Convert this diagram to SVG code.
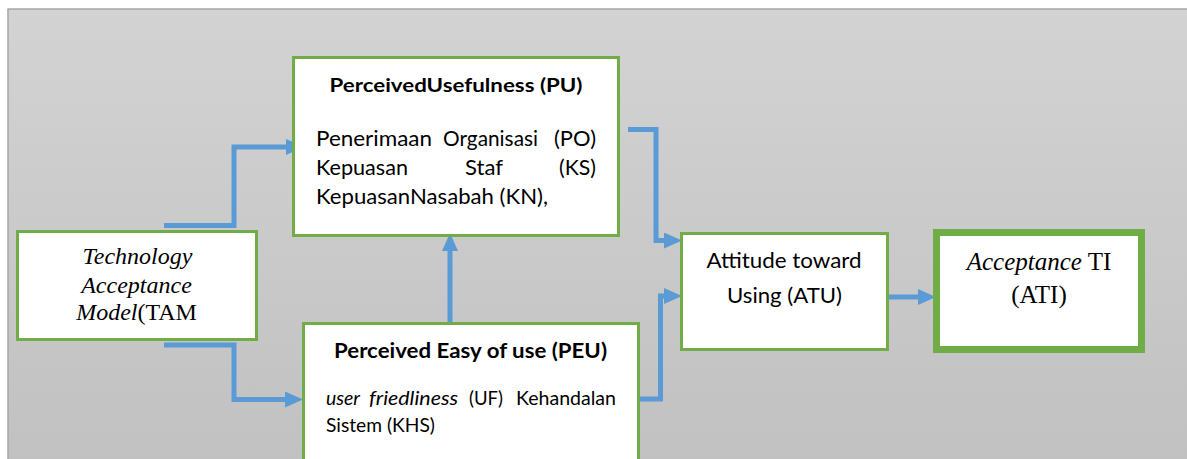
<svg xmlns="http://www.w3.org/2000/svg" width="1187" height="459" viewBox="0 0 1187 459">
  <defs>
    <linearGradient id="bg" x1="0" y1="0" x2="0" y2="1">
      <stop offset="0" stop-color="#d3d3d3"/>
      <stop offset="1" stop-color="#c1c1c1"/>
    </linearGradient>
    <marker id="arr" markerUnits="userSpaceOnUse" markerWidth="18" markerHeight="16" refX="6" refY="8" orient="auto" viewBox="0 0 18 16">
      <path d="M0,0 L18,8 L0,16 Z" fill="#5b9bd5"/>
    </marker>
    <style>
      .box { fill: #ffffff; stroke: #70ad47; stroke-width: 3; }
      .thick { stroke-width: 7; }
      .conn { fill: none; stroke: #5b9bd5; stroke-width: 5; stroke-linejoin: miter; marker-end: url(#arr); }
      .sans { font-family: Lato, "Liberation Sans", sans-serif; fill: #000; }
      .serif { font-family: "Liberation Serif", serif; fill: #000; }
      .b { font-weight: bold; }
      .i { font-style: italic; }
      .pu { font-size: 22px; }
      .peu { font-size: 20px; }
    </style>
  </defs>

  <rect x="0" y="0" width="1187" height="459" fill="#ffffff"/>
  <rect x="8" y="9" width="1179" height="450" fill="url(#bg)"/>
  <line x1="7.5" y1="9" x2="1187" y2="9" stroke="#a6a6a6" stroke-width="1.5"/>
  <line x1="8" y1="9" x2="8" y2="459" stroke="#a6a6a6" stroke-width="1.5"/>

  <g id="connectors">
    <path class="conn" d="M164,225.5 H234 V147 H292"/>
    <path class="conn" d="M164,345 H234 V399.5 H291"/>
    <path class="conn" d="M450,322 V245"/>
    <path class="conn" d="M628,129.5 H656 V240.5 H670"/>
    <path class="conn" d="M640,399 H660.5 V296 H670"/>
    <path class="conn" d="M888,297 H924"/>
  </g>

  <g id="tam">
    <rect class="box" x="17.5" y="231.5" width="239" height="108"/>
    <text class="serif i" font-size="24" text-anchor="middle" x="137.5" y="264">Technology</text>
    <text class="serif i" font-size="24" text-anchor="middle" x="136.5" y="293">Acceptance</text>
    <text class="serif" font-size="24" text-anchor="middle" x="136.5" y="320"><tspan class="i">Model</tspan>(TAM</text>
  </g>

  <g id="pu">
    <rect class="box" x="293.5" y="57.5" width="325" height="178"/>
    <text class="sans b" font-size="19" text-anchor="middle" x="456" y="92" textLength="253" lengthAdjust="spacingAndGlyphs">PerceivedUsefulness (PU)</text>
    <text class="sans pu" x="316" y="146" textLength="116" lengthAdjust="spacingAndGlyphs">Penerimaan</text>
    <text class="sans pu" x="443" y="146" textLength="95" lengthAdjust="spacingAndGlyphs">Organisasi</text>
    <text class="sans pu" x="554" y="146" textLength="42" lengthAdjust="spacingAndGlyphs">(PO)</text>
    <text class="sans pu" x="316" y="175" textLength="92" lengthAdjust="spacingAndGlyphs">Kepuasan</text>
    <text class="sans pu" x="465" y="175" textLength="38" lengthAdjust="spacingAndGlyphs">Staf</text>
    <text class="sans pu" x="559" y="175" textLength="37" lengthAdjust="spacingAndGlyphs">(KS)</text>
    <text class="sans pu" x="316" y="204" textLength="232" lengthAdjust="spacingAndGlyphs">KepuasanNasabah (KN),</text>
  </g>

  <g id="peu">
    <rect class="box" x="303.5" y="323.5" width="335" height="200"/>
    <text class="sans b" font-size="20" text-anchor="middle" x="470.5" y="358" textLength="273" lengthAdjust="spacingAndGlyphs">Perceived Easy of use (PEU)</text>
    <text class="sans peu i" x="326" y="405" textLength="34" lengthAdjust="spacingAndGlyphs">user</text>
    <text class="sans peu i" x="369" y="405" textLength="89" lengthAdjust="spacingAndGlyphs">friedliness</text>
    <text class="sans peu" x="469" y="405" textLength="34" lengthAdjust="spacingAndGlyphs">(UF)</text>
    <text class="sans peu" x="516" y="405" textLength="100" lengthAdjust="spacingAndGlyphs">Kehandalan</text>
    <text class="sans peu" x="326" y="432" textLength="109" lengthAdjust="spacingAndGlyphs">Sistem (KHS)</text>
  </g>

  <g id="atu">
    <rect class="box" x="681.5" y="233.5" width="206" height="116"/>
    <text class="sans" font-size="21" text-anchor="middle" x="784" y="268" textLength="155" lengthAdjust="spacingAndGlyphs">Attitude toward</text>
    <text class="sans" font-size="21" text-anchor="middle" x="784.5" y="303" textLength="115" lengthAdjust="spacingAndGlyphs">Using (ATU)</text>
  </g>

  <g id="ati">
    <rect class="box thick" x="936.5" y="232.5" width="205" height="117"/>
    <text class="serif" font-size="25" text-anchor="middle" x="1039" y="270"><tspan class="i">Acceptance</tspan> TI</text>
    <text class="serif" font-size="25" text-anchor="middle" x="1039" y="303">(ATI)</text>
  </g>
</svg>
